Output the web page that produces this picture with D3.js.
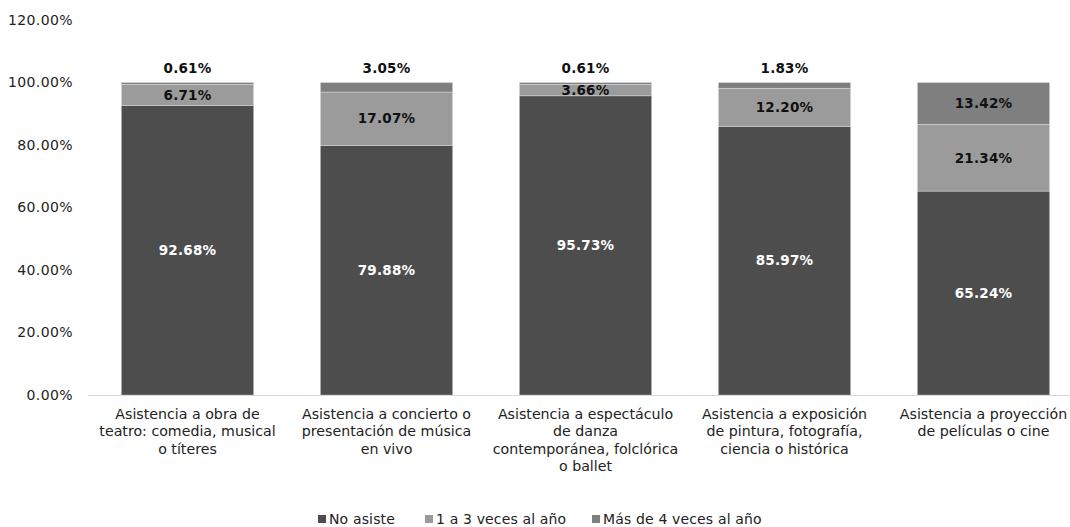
<!DOCTYPE html>
<html><head><meta charset="utf-8">
<script src="https://cdn.jsdelivr.net/npm/d3@7/dist/d3.min.js"></script>
<style>body{margin:0;background:#fff;} svg{display:block;font-family:"DejaVu Sans","Noto Sans",sans-serif;}</style>
</head><body><svg id="c" width="1070" height="527"></svg>
<script>
const categories = [
  ["Asistencia a obra de","teatro: comedia, musical","o títeres"],
  ["Asistencia a concierto o","presentación de música","en vivo"],
  ["Asistencia a espectáculo","de danza","contemporánea, folclórica","o ballet"],
  ["Asistencia a exposición","de pintura, fotografía,","ciencia o histórica"],
  ["Asistencia a proyección","de películas o cine"]
];
const seriesNames = ["No asiste","1 a 3 veces al año","Más de 4 veces al año"];
const noAsiste = [92.68, 79.88, 95.73, 85.97, 65.24];
const unoATres = [6.71, 17.07, 3.66, 12.20, 21.34];
const masDe4 = [0.61, 3.05, 0.61, 1.83, 13.42];
const yTicks = [0,20,40,60,80,100,120];
const colors = ["#4d4d4d","#9b9b9b","#7f7f7f"];
const textColors = ["#ffffff","#111111","#111111"];

const svg = d3.select("#c");
const x = d3.scaleBand().domain(d3.range(categories.length)).range([88,1083]).paddingInner(0.335).paddingOuter(0.1675);
const y = d3.scaleLinear().domain([0,120]).range([395,20]);

const rows = categories.map((c,i)=>({i, v:[noAsiste[i],unoATres[i],masDe4[i]]}));
const stack = d3.stack().keys([0,1,2]).value((d,k)=>d.v[k]);
const layers = stack(rows);

// y axis labels
svg.append("g").selectAll("text").data(yTicks).join("text")
  .attr("x",73).attr("y",d=>y(d)).attr("dy","0.35em").attr("text-anchor","end")
  .attr("font-size",14).attr("letter-spacing","0.4px").attr("fill","#222").text(d=>d.toFixed(2)+"%");

// bars
layers.forEach((layer,k)=>{
  svg.append("g").selectAll("rect").data(layer).join("rect")
    .attr("x",d=>x(d.data.i)).attr("width",x.bandwidth())
    .attr("y",d=>y(d[1])).attr("height",d=>y(d[0])-y(d[1]))
    .attr("fill",colors[k]).attr("stroke","#ffffff").attr("stroke-width",0.6).attr("stroke-opacity",0.5);
});

// baseline
svg.append("line").attr("x1",88).attr("x2",1070).attr("y1",y(0)+0.5).attr("y2",y(0)+0.5)
  .attr("stroke","#d9d9d9").attr("stroke-width",1);

// value labels
layers.forEach((layer,k)=>{
  svg.append("g").selectAll("text").data(layer).join("text")
    .attr("x",d=>x(d.data.i)+x.bandwidth()/2)
    .attr("y",d=>{
      const v=d[1]-d[0];
      if(k===2 && v<5) return y(100)-14;
      return (y(d[0])+y(d[1]))/2;
    })
    .attr("dy","0.35em").attr("text-anchor","middle").attr("font-size",13.5).attr("font-weight","bold")
    .attr("letter-spacing","0.2px")
    .attr("fill",d=>{const v=d[1]-d[0]; return (k===2&&v<5)?"#111":textColors[k];})
    .text(d=>(d[1]-d[0]).toFixed(2)+"%");
});

// category labels
const cl = svg.append("g").selectAll("text").data(categories).join("text")
  .attr("x",(d,i)=>x(i)+x.bandwidth()/2).attr("y",414).attr("text-anchor","middle")
  .attr("font-size",14.2).attr("fill","#222");
cl.selectAll("tspan").data(d=>d).join("tspan")
  .attr("x",function(){return this.parentNode.getAttribute("x");})
  .attr("dy",(d,j)=>j===0?"0.35em":"17.5px").text(d=>d);

// legend
const legX = [318,425,592];
const lg = svg.append("g").selectAll("g").data(seriesNames).join("g")
  .attr("transform",(d,i)=>`translate(${legX[i]},519)`);
lg.append("rect").attr("x",0).attr("y",-4).attr("width",8).attr("height",8).attr("fill",(d,i)=>colors[i]);
lg.append("text").attr("x",11).attr("y",0).attr("dy","0.35em").attr("font-size",14).attr("letter-spacing","0.15px").attr("fill","#222").text(d=>d);
</script></body></html>
